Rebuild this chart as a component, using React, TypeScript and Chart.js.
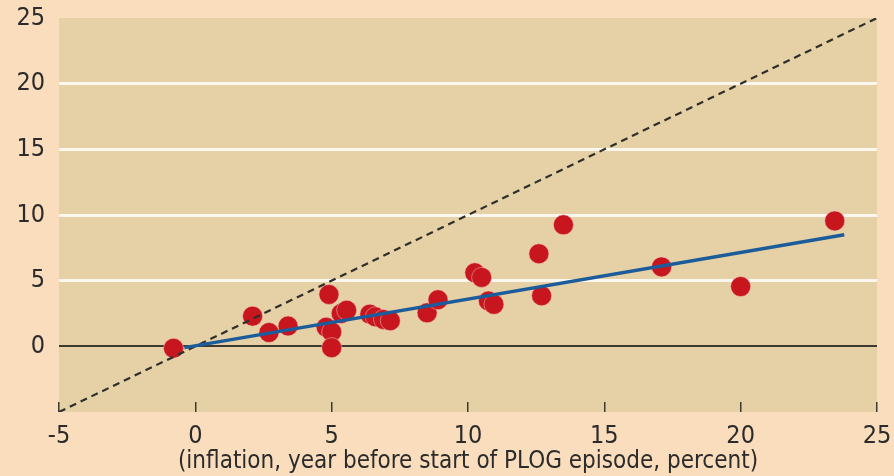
import React, { useEffect, useRef } from "react";
import { Chart, registerables } from "chart.js";

Chart.register(...registerables);

// Episodes: inflation the year before the PLOG episode (x) vs. outcome (y)
const pointX = [-0.8, 2.1, 2.7, 3.4, 4.9, 4.8, 5.0, 5.0, 5.35, 5.55, 6.4, 6.6, 6.9, 7.15, 8.5, 8.9, 10.25, 10.5, 10.75, 10.95, 12.6, 12.7, 13.5, 17.1, 20.0, 23.45];
const pointY = [-0.15, 2.3, 1.05, 1.55, 3.95, 1.45, 1.1, -0.1, 2.5, 2.75, 2.45, 2.25, 2.05, 1.95, 2.55, 3.55, 5.6, 5.25, 3.45, 3.2, 7.05, 3.85, 9.25, 6.05, 4.55, 9.55];

// Fitted line end points
const fitX = [-0.4, 23.8];
const fitY = [-0.1, 8.5];

// 45-degree line
const diagX = [-5, 25];
const diagY = [-5, 25];

const xTicks = [-5, 0, 5, 10, 15, 20, 25];
const yTicks = [-5, 0, 5, 10, 15, 20, 25];
const xTitle = "(inflation, year before start of PLOG episode, percent)";

const FONT = "'Liberation Sans Narrow', 'DejaVu Sans Condensed', 'Arial Narrow', sans-serif";

export default function App() {
  const ref = useRef<HTMLCanvasElement | null>(null);

  useEffect(() => {
    if (!ref.current) return;
    const plotBg = {
      id: "plotBg",
      beforeDraw(chart: any) {
        const { ctx, chartArea } = chart;
        ctx.save();
        ctx.fillStyle = "#e6d1a7";
        ctx.fillRect(chartArea.left, chartArea.top, chartArea.right - chartArea.left, chartArea.bottom - chartArea.top);
        ctx.restore();
      },
    };
    const chart = new Chart(ref.current, {
      type: "scatter",
      data: {
        datasets: [
          {
            label: "fit",
            data: fitX.map((x, i) => ({ x, y: fitY[i] })),
            showLine: true,
            borderColor: "#1d5c9a",
            borderWidth: 3.5,
            pointRadius: 0,
            order: 1,
          },
          {
            label: "45",
            data: diagX.map((x, i) => ({ x, y: diagY[i] })),
            showLine: true,
            borderColor: "#2e2e2a",
            borderWidth: 2.2,
            borderDash: [7, 5],
            pointRadius: 0,
            order: 2,
          },
          {
            label: "episodes",
            data: pointX.map((x, i) => ({ x, y: pointY[i] })),
            backgroundColor: "#c8161f",
            borderColor: "rgba(240,200,190,0.5)",
            borderWidth: 1,
            pointRadius: 10,
            order: 3,
          },
        ],
      },
      options: {
        animation: false,
        responsive: false,
        layout: { padding: { top: 18, right: 17, left: 0, bottom: 0 } },
        plugins: { legend: { display: false }, tooltip: { enabled: false } },
        scales: {
          x: {
            type: "linear",
            min: -5,
            max: 25,
            afterBuildTicks: (s: any) => {
              s.ticks = xTicks.map((v) => ({ value: v }));
            },
            afterFit: (s: any) => {
              s.height = 64;
              s.paddingLeft = 0;
              s.paddingRight = 0;
              s.paddingTop = 0;
              s.paddingBottom = 0;
            },
            border: { display: false },
            grid: {
              drawOnChartArea: false,
              drawTicks: true,
              tickLength: -10,
              color: "#3a3a30",
              lineWidth: 1.5,
            },
            ticks: {
              padding: 19,
              color: "#2b2b2b",
              font: { family: FONT, size: 25 },
            },
            title: {
              display: true,
              text: xTitle,
              color: "#2b2b2b",
              font: { family: FONT, size: 24 },
              padding: { top: -3, bottom: 0 },
            },
          },
          y: {
            type: "linear",
            min: -5,
            max: 25,
            afterBuildTicks: (s: any) => {
              s.ticks = yTicks.map((v) => ({ value: v }));
            },
            afterFit: (s: any) => {
              s.width = 59;
              s.paddingLeft = 0;
              s.paddingRight = 0;
              s.paddingTop = 0;
              s.paddingBottom = 0;
            },
            border: { display: false },
            grid: {
              drawTicks: false,
              color: (c: any) => {
                const v = c.tick && c.tick.value;
                if (v === 0) return "#3a3a30";
                if (v === -5 || v === 25) return "rgba(0,0,0,0)";
                return "#fbf7ee";
              },
              lineWidth: (c: any) => (c.tick && c.tick.value === 0 ? 2 : 3),
            },
            ticks: {
              padding: 14,
              color: "#2b2b2b",
              font: { family: FONT, size: 25 },
              callback: (v: any) => (v === -5 ? "" : String(v)),
            },
          },
        },
      },
      plugins: [plotBg],
    });
    return () => chart.destroy();
  }, []);

  return (
    <div style={{ position: "absolute", left: 0, top: 0, width: 894, height: 476, background: "#f9ddbd" }}>
      <canvas ref={ref} width={894} height={476} style={{ display: "block" }} />
    </div>
  );
}
